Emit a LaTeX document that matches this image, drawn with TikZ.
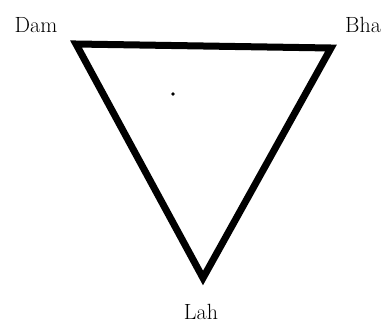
\documentclass[tikz,border=0pt]{standalone}
\usepackage{tikz}
\usetikzlibrary{positioning}

\begin{document}
\begin{tikzpicture}[x=1pt, y=-1pt, every node/.style={font=\fontsize{22}{24}\selectfont, inner sep=0pt}]
    \useasboundingbox (0,0) rectangle (386,322);
    \coordinate (dam) at (76,44);
    \coordinate (bha) at (331,48);
    \coordinate (lah) at (203,278);
    \node[anchor=base] (damlabel) at (36,32) {Dam};
    \node[anchor=base] (bhalabel) at (363,32) {Bha};
    \node[anchor=base] (lahlabel) at (201,319) {Lah};
    \draw[line width=7pt, line join=miter] (dam) -- (bha) -- (lah) -- cycle;
    \fill (173,94) circle (1.8);
  \end{tikzpicture}
\end{document}
